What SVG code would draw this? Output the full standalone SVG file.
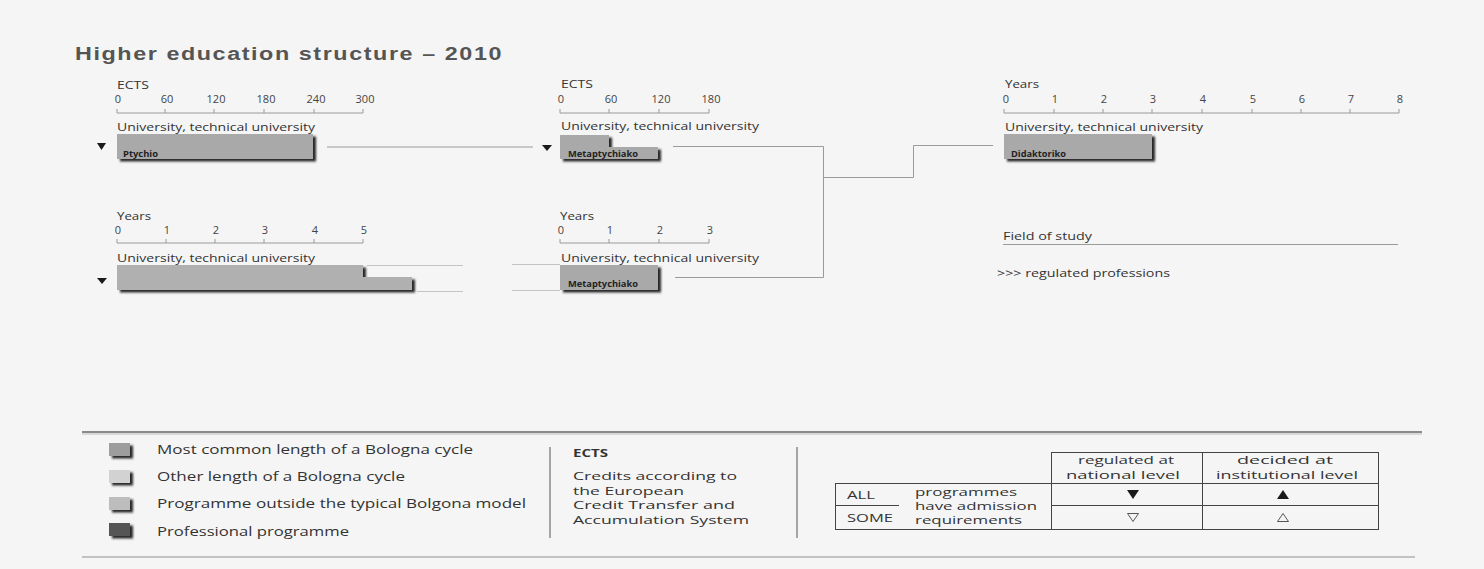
<svg xmlns="http://www.w3.org/2000/svg" width="1484" height="569" viewBox="0 0 1484 569">
<defs>
<filter id="sh" x="-10%" y="-20%" width="130%" height="160%">
<feDropShadow dx="3" dy="2.5" stdDeviation="0.9" flood-color="#1a1a1a" flood-opacity="0.95"/>
</filter>
</defs>
<style>
.t{font-family:"Open Sans","Noto Sans",sans-serif;fill:#333}
.s{font-size:11.5px}
.n{font-size:11px;text-anchor:middle;fill:#444}
.lab{font-family:"Open Sans","Noto Sans",sans-serif;font-size:8px;font-weight:bold;fill:#222}
.lg{font-size:12.5px}
.sm{font-size:11.5px}
.ax{stroke:#9a9a9a;stroke-width:1;fill:none}
.bar{fill:#a9a9a9;filter:url(#sh)}
.con{stroke:#9a9a9a;stroke-width:1;fill:none}
.faint{stroke:#c4c4c4;stroke-width:1;fill:none}
.tri{fill:#1a1a1a}
.tb{stroke:#444;stroke-width:1;fill:none}
</style>
<rect width="1484" height="569" fill="#f5f5f5"/>
<text x="75" y="60" font-family="'Liberation Sans',Arial,sans-serif" font-size="18" font-weight="bold" letter-spacing="1.2" fill="#555" textLength="428" lengthAdjust="spacingAndGlyphs">Higher education structure – 2010</text>

<g id="panel-ects300">
<text class="t" x="117" y="89" font-size="10.5" textLength="32" lengthAdjust="spacingAndGlyphs">ECTS</text>
<text class="t n" x="118" y="103">0</text><text class="t n" x="167" y="103">60</text><text class="t n" x="216" y="103">120</text><text class="t n" x="266" y="103">180</text><text class="t n" x="316" y="103">240</text><text class="t n" x="365" y="103">300</text>
<path class="ax" d="M117,113H363M117,109V113M165,109V113M214,109V113M264,109V113M314,109V113M363,109V113"/>
<text class="t s" x="117" y="131" textLength="198" lengthAdjust="spacingAndGlyphs">University, technical university</text>
</g>
<g id="node-ptychio">
<polygon class="tri" points="97,143 106,143 101.5,150"/>
<rect class="bar" x="117" y="134" width="196" height="25"/>
<text class="lab" x="123" y="157" textLength="35" lengthAdjust="spacingAndGlyphs">Ptychio</text>
</g>

<g id="panel-ects180">
<text class="t" x="561" y="88" font-size="10.5" textLength="32" lengthAdjust="spacingAndGlyphs">ECTS</text>
<text class="t n" x="561" y="103">0</text><text class="t n" x="611" y="103">60</text><text class="t n" x="661" y="103">120</text><text class="t n" x="711" y="103">180</text>
<path class="ax" d="M560,113H709M560,109V113M609,109V113M659,109V113M709,109V113"/>
<text class="t s" x="561" y="130" textLength="198" lengthAdjust="spacingAndGlyphs">University, technical university</text>
</g>
<g id="node-metaptychiako-1">
<polygon class="tri" points="542,145 552,145 547,151"/>
<path class="bar" d="M560,135H609V147H658V159H560Z"/>
<text class="lab" x="568" y="157" textLength="70" lengthAdjust="spacingAndGlyphs">Metaptychiako</text>
</g>

<g id="panel-years8">
<text class="t" x="1005" y="88" font-size="10.5" textLength="34" lengthAdjust="spacingAndGlyphs">Years</text>
<text class="t n" x="1006" y="103">0</text><text class="t n" x="1055" y="103">1</text><text class="t n" x="1104" y="103">2</text><text class="t n" x="1153" y="103">3</text><text class="t n" x="1203" y="103">4</text><text class="t n" x="1253" y="103">5</text><text class="t n" x="1302" y="103">6</text><text class="t n" x="1351" y="103">7</text><text class="t n" x="1400" y="103">8</text>
<path class="ax" d="M1004,113H1399M1004,109V113M1054,109V113M1103,109V113M1152,109V113M1202,109V113M1252,109V113M1301,109V113M1350,109V113M1399,109V113"/>
<text class="t s" x="1005" y="131" textLength="198" lengthAdjust="spacingAndGlyphs">University, technical university</text>
</g>
<g id="node-didaktoriko">
<rect class="bar" x="1004" y="134" width="148" height="25"/>
<text class="lab" x="1011" y="157" textLength="55" lengthAdjust="spacingAndGlyphs">Didaktoriko</text>
</g>

<g id="panel-years5">
<text class="t" x="117" y="220" font-size="10.5" textLength="34" lengthAdjust="spacingAndGlyphs">Years</text>
<text class="t n" x="118" y="234">0</text><text class="t n" x="167" y="234">1</text><text class="t n" x="216" y="234">2</text><text class="t n" x="265" y="234">3</text><text class="t n" x="315" y="234">4</text><text class="t n" x="364" y="234">5</text>
<path class="ax" d="M117,243H363M117,239V243M166,239V243M215,239V243M264,239V243M314,239V243M363,239V243"/>
<text class="t s" x="117" y="262" textLength="198" lengthAdjust="spacingAndGlyphs">University, technical university</text>
</g>
<g id="node-long-programme">
<polygon class="tri" points="97,278 107,278 102,284"/>
<path class="bar" d="M117,265H363V277H412V290H117Z" style="fill:#b0b0b0"/>
</g>

<g id="panel-years3">
<text class="t" x="560" y="220" font-size="10.5" textLength="34" lengthAdjust="spacingAndGlyphs">Years</text>
<text class="t n" x="561" y="234">0</text><text class="t n" x="610" y="234">1</text><text class="t n" x="660" y="234">2</text><text class="t n" x="710" y="234">3</text>
<path class="ax" d="M560,243H709M560,239V243M609,239V243M659,239V243M709,239V243"/>
<text class="t s" x="561" y="262" textLength="198" lengthAdjust="spacingAndGlyphs">University, technical university</text>
</g>
<g id="node-metaptychiako-2">
<rect class="bar" x="560" y="265" width="98" height="25"/>
<text class="lab" x="568" y="287" textLength="70" lengthAdjust="spacingAndGlyphs">Metaptychiako</text>
</g>

<g id="field-of-study">
<text class="t s" x="1003" y="240" textLength="89" lengthAdjust="spacingAndGlyphs">Field of study</text>
<path class="ax" d="M1003,244.5H1398"/>
<text class="t s" x="997" y="277" textLength="173" lengthAdjust="spacingAndGlyphs">&gt;&gt;&gt;  regulated professions</text>
</g>

<g id="connectors">
<path class="con" d="M327,147H533"/>
<path class="con" d="M673,146.5H823.5V277.5H675"/>
<path class="con" d="M823.5,177.5H913.5V145.5H993"/>
<path class="faint" d="M367,265.5H463M417,291.5H463M512,264.5H560M512,290.5H560"/>
</g>

<g id="legend">
<path d="M82,432H1422" stroke="#8a8a8a" stroke-width="2"/>
<path d="M82,434H1422" stroke="#cfcfcf" stroke-width="1.5"/>
<path d="M82,557H1415" stroke="#b0b0b0" stroke-width="1.5"/>
<g id="legend-colours">
<rect x="109" y="443" width="21" height="13" fill="#9d9d9d" filter="url(#sh)"/>
<rect x="109" y="470" width="21" height="13" fill="#d2d2d2" filter="url(#sh)"/>
<rect x="109" y="497" width="21" height="13" fill="#bdbdbd" filter="url(#sh)"/>
<rect x="109" y="523" width="21" height="13" fill="#555" filter="url(#sh)"/>
<text class="t lg" x="157" y="454" textLength="316" lengthAdjust="spacingAndGlyphs">Most common length of a Bologna cycle</text>
<text class="t lg" x="157" y="481" textLength="248" lengthAdjust="spacingAndGlyphs">Other length of a Bologna cycle</text>
<text class="t lg" x="157" y="508" textLength="369" lengthAdjust="spacingAndGlyphs">Programme outside the typical Bolgona model</text>
<text class="t lg" x="157" y="536" textLength="192" lengthAdjust="spacingAndGlyphs">Professional programme</text>
</g>
<path d="M550,447V538M797,447V538" stroke="#8a8a8a" stroke-width="1.5"/>
<g id="legend-ects">
<text class="t" x="573" y="457" font-size="11" font-weight="bold" textLength="35" lengthAdjust="spacingAndGlyphs">ECTS</text>
<text class="t sm" x="573" y="480" textLength="164" lengthAdjust="spacingAndGlyphs">Credits according to</text>
<text class="t sm" x="573" y="495" textLength="111" lengthAdjust="spacingAndGlyphs">the European</text>
<text class="t sm" x="573" y="509" textLength="162" lengthAdjust="spacingAndGlyphs">Credit Transfer and</text>
<text class="t sm" x="573" y="524" textLength="176" lengthAdjust="spacingAndGlyphs">Accumulation System</text>
</g>
<g id="legend-admission">
<path class="tb" d="M1051,452.5H1379M835,483.5H1379M835,505.5H899M1051,505.5H1379M835,529.5H1379M835.5,483V530M1051.5,452V530M1202.5,452V530M1378.5,452V530"/>
<text class="t sm" x="1078" y="464" textLength="96" lengthAdjust="spacingAndGlyphs">regulated at</text>
<text class="t sm" x="1066" y="479" textLength="114" lengthAdjust="spacingAndGlyphs">national level</text>
<text class="t sm" x="1237" y="464" textLength="96" lengthAdjust="spacingAndGlyphs">decided at</text>
<text class="t sm" x="1216" y="479" textLength="142" lengthAdjust="spacingAndGlyphs">institutional level</text>
<text class="t sm" x="847" y="499" textLength="28" lengthAdjust="spacingAndGlyphs">ALL</text>
<text class="t sm" x="847" y="522" textLength="46" lengthAdjust="spacingAndGlyphs">SOME</text>
<text class="t sm" x="915" y="496" textLength="102" lengthAdjust="spacingAndGlyphs">programmes</text>
<text class="t sm" x="915" y="510" textLength="122" lengthAdjust="spacingAndGlyphs">have admission</text>
<text class="t sm" x="915" y="524" textLength="107" lengthAdjust="spacingAndGlyphs">requirements</text>
<polygon class="tri" points="1127,490 1139,490 1133,499"/>
<polygon class="tri" points="1277,499 1289,499 1283,490"/>
<polygon points="1127.5,513.5 1138.5,513.5 1133,521.5" fill="none" stroke="#444" stroke-width="0.9"/>
<polygon points="1277.5,521.5 1288.5,521.5 1283,513.5" fill="none" stroke="#444" stroke-width="0.9"/>
</g>
</g>
</svg>
